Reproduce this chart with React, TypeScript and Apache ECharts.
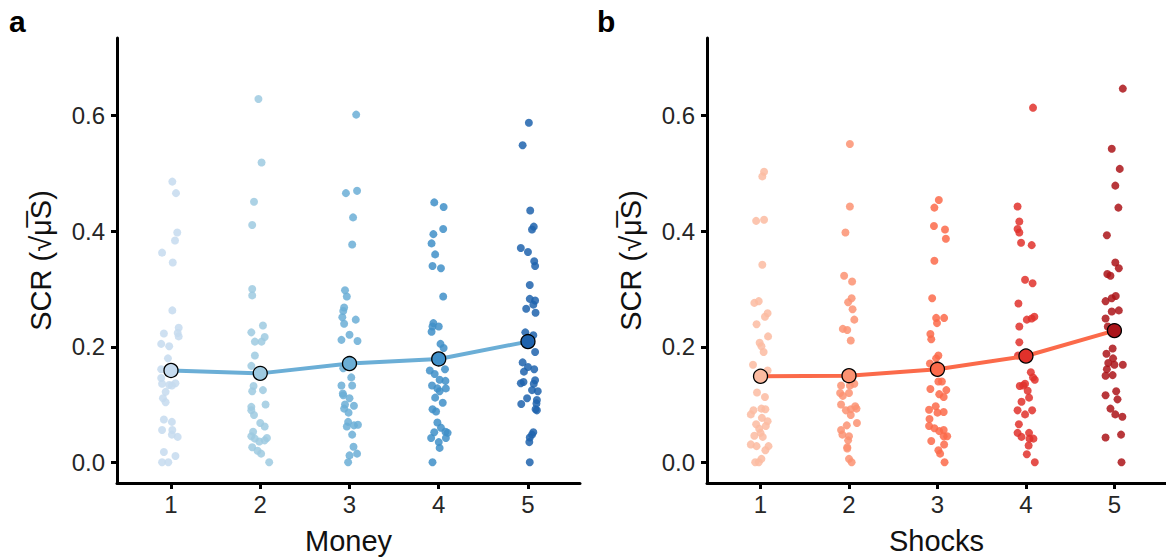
import React, { useEffect, useRef } from "react";
import * as echarts from "echarts";

const xTicks = [1, 2, 3, 4, 5];
const yTicks = [0, 0.2, 0.4, 0.6];

const moneyColors = ["#c6dbef", "#9ecae1", "#6baed6", "#3f8fc8", "#1f63ad"];
const shockColors = ["#fcbba1", "#fc9272", "#fb6a4a", "#e0312b", "#ab1419"];

const moneyMeans = [0.159, 0.154, 0.171, 0.179, 0.209];
const shockMeans = [0.149, 0.15, 0.161, 0.184, 0.228];

const money1 = [[1.015,0.486],[1.056,0.466],[1.07,0.398],[1.045,0.384],[0.9,0.363],[1.02,0.346],[1.015,0.263],[0.92,0.223],[1.086,0.233],[1.075,0.224],[1.086,0.218],[0.89,0.205],[0.98,0.201],[0.966,0.18],[0.89,0.161],[0.89,0.146],[0.9,0.136],[0.98,0.134],[1.05,0.137],[1.01,0.133],[0.94,0.122],[0.91,0.111],[0.94,0.104],[0.92,0.074],[1.01,0.07],[0.9,0.056],[1.015,0.056],[1.01,0.048],[1.075,0.044],[0.92,0.018],[1.05,0.011],[0.9,0.0],[0.97,0.0]];
const money2 = [[1.98,0.629],[2.015,0.519],[1.93,0.451],[1.91,0.411],[1.91,0.3],[1.91,0.289],[2.03,0.237],[1.9,0.225],[2.05,0.217],[1.94,0.209],[2.015,0.209],[1.94,0.185],[1.9,0.167],[1.925,0.132],[1.91,0.123],[2.03,0.125],[1.9,0.096],[2.06,0.1],[1.9,0.09],[1.93,0.082],[2.0,0.068],[2.05,0.062],[1.92,0.053],[1.9,0.045],[1.94,0.041],[1.99,0.036],[2.075,0.042],[2.05,0.038],[1.91,0.026],[1.97,0.02],[2.01,0.015],[2.1,0.0]];
const money3 = [[3.075,0.602],[2.96,0.466],[3.085,0.47],[3.04,0.424],[3.03,0.377],[2.95,0.298],[2.97,0.287],[2.94,0.268],[2.93,0.262],[2.92,0.251],[3.07,0.247],[2.94,0.24],[3.0,0.221],[2.91,0.212],[3.09,0.21],[2.93,0.163],[3.02,0.147],[2.91,0.133],[3.03,0.133],[2.925,0.119],[2.93,0.116],[3.0,0.111],[3.05,0.098],[2.95,0.1],[2.94,0.093],[2.99,0.086],[2.985,0.07],[2.97,0.062],[3.05,0.064],[3.095,0.065],[3.03,0.048],[3.045,0.027],[3.0,0.012],[3.085,0.015],[2.985,0.0]];
const money4 = [[3.95,0.45],[4.055,0.442],[3.94,0.395],[4.05,0.404],[3.92,0.379],[3.96,0.36],[3.93,0.34],[4.025,0.336],[4.05,0.287],[3.94,0.241],[3.93,0.235],[4.0,0.235],[3.92,0.226],[4.02,0.205],[4.055,0.198],[3.9,0.159],[4.07,0.161],[3.955,0.153],[4.01,0.143],[4.075,0.141],[3.925,0.133],[3.985,0.128],[4.08,0.128],[4.01,0.123],[3.96,0.112],[4.045,0.103],[3.93,0.092],[3.97,0.088],[3.985,0.069],[4.025,0.06],[3.95,0.052],[4.075,0.053],[4.1,0.051],[3.915,0.042],[4.08,0.042],[4.0,0.035],[4.01,0.025],[3.93,0.0]];
const money5 = [[5.01,0.588],[4.94,0.549],[5.025,0.436],[5.065,0.408],[5.045,0.403],[4.92,0.371],[5.0,0.364],[5.07,0.348],[5.08,0.34],[5.02,0.307],[5.02,0.283],[5.08,0.28],[5.06,0.273],[4.98,0.266],[5.085,0.259],[4.97,0.225],[5.06,0.22],[5.08,0.191],[4.94,0.173],[5.0,0.165],[5.07,0.161],[4.955,0.157],[4.95,0.139],[4.92,0.137],[5.08,0.142],[5.065,0.136],[5.045,0.125],[5.11,0.123],[4.99,0.111],[5.1,0.108],[4.925,0.101],[5.095,0.102],[5.085,0.092],[5.1,0.09],[5.06,0.052],[5.045,0.048],[5.02,0.043],[5.015,0.035],[5.02,0.0]];

const shock1 = [[1.04,0.503],[1.02,0.495],[0.95,0.418],[1.04,0.42],[1.02,0.342],[0.93,0.276],[0.98,0.279],[1.08,0.258],[1.05,0.252],[0.955,0.239],[1.085,0.218],[0.99,0.207],[1.01,0.201],[1.035,0.191],[0.915,0.169],[1.08,0.159],[0.96,0.121],[1.05,0.113],[0.92,0.09],[0.89,0.083],[1.01,0.093],[1.055,0.092],[1.015,0.077],[1.08,0.071],[0.95,0.066],[1.06,0.063],[0.985,0.058],[1.0,0.051],[0.93,0.046],[1.025,0.044],[0.89,0.031],[0.955,0.028],[1.09,0.028],[1.055,0.021],[1.01,0.006],[0.94,0.0],[0.98,0.0]];
const shock2 = [[2.01,0.551],[2.01,0.443],[1.96,0.398],[1.945,0.323],[2.035,0.313],[2.03,0.284],[1.99,0.277],[2.04,0.265],[2.06,0.247],[1.93,0.231],[1.98,0.229],[2.02,0.211],[2.06,0.136],[1.91,0.133],[2.01,0.133],[1.9,0.12],[2.0,0.12],[1.93,0.115],[1.91,0.1],[2.07,0.097],[2.085,0.093],[1.965,0.09],[2.02,0.092],[2.02,0.082],[2.09,0.068],[1.975,0.064],[1.91,0.056],[1.925,0.048],[2.0,0.045],[1.99,0.038],[1.98,0.026],[1.98,0.024],[2.0,0.006],[2.03,0.0]];
const shock3 = [[3.015,0.454],[2.965,0.441],[2.96,0.409],[3.085,0.403],[3.095,0.387],[2.965,0.349],[2.94,0.284],[2.985,0.25],[3.075,0.25],[2.995,0.241],[2.92,0.222],[2.93,0.213],[3.01,0.185],[2.985,0.18],[2.915,0.171],[3.01,0.14],[3.05,0.14],[2.92,0.127],[3.1,0.125],[3.02,0.118],[3.07,0.113],[2.98,0.097],[2.905,0.091],[3.0,0.086],[3.07,0.087],[2.91,0.075],[2.905,0.063],[2.965,0.059],[3.02,0.054],[3.07,0.056],[3.07,0.045],[3.11,0.045],[2.93,0.037],[3.075,0.031],[3.01,0.021],[3.03,0.015],[3.08,0.0]];
const shock4 = [[4.08,0.614],[3.905,0.443],[3.925,0.417],[3.905,0.404],[3.925,0.398],[3.945,0.38],[4.065,0.376],[3.99,0.316],[4.075,0.31],[3.915,0.275],[4.01,0.247],[4.065,0.249],[4.095,0.252],[3.925,0.235],[3.925,0.208],[3.91,0.185],[4.055,0.156],[4.08,0.147],[4.1,0.143],[3.93,0.132],[3.99,0.136],[3.97,0.133],[4.02,0.124],[4.035,0.112],[3.95,0.105],[3.905,0.09],[3.99,0.083],[4.07,0.09],[3.92,0.066],[3.905,0.051],[3.95,0.044],[4.035,0.051],[4.04,0.041],[4.085,0.041],[4.03,0.029],[4.01,0.014],[4.1,0.0]];
const shock5 = [[5.095,0.647],[4.97,0.543],[5.06,0.508],[5.01,0.479],[5.045,0.441],[4.915,0.393],[5.01,0.346],[5.05,0.336],[4.92,0.326],[4.955,0.323],[5.015,0.288],[4.97,0.284],[4.9,0.279],[5.05,0.263],[4.97,0.261],[4.9,0.249],[4.925,0.235],[4.98,0.197],[4.91,0.188],[4.985,0.18],[4.93,0.172],[5.0,0.169],[5.095,0.169],[4.915,0.161],[4.9,0.15],[4.98,0.151],[4.9,0.116],[5.02,0.123],[5.035,0.109],[4.955,0.093],[5.01,0.083],[5.09,0.079],[5.075,0.048],[4.9,0.043],[5.08,0.0]];

const moneyCols = [money1, money2, money3, money4, money5];
const shockCols = [shock1, shock2, shock3, shock4, shock5];

const FONT = "Liberation Sans, Arial, sans-serif";

function makeAxes(idx: number, name: string) {
  const xAxis = {
    type: "value",
    gridIndex: idx,
    min: 0.395,
    max: 5.583,
    name,
    nameLocation: "middle",
    nameGap: 43,
    nameTextStyle: { fontSize: 29, color: "#111", fontFamily: FONT },
    axisLine: { show: true, onZero: false, lineStyle: { color: "#000", width: 3 } },
    axisTick: { show: true, length: 6, lineStyle: { color: "#000", width: 3 }, customValues: xTicks },
    axisLabel: { fontSize: 24, color: "#262626", margin: 9, fontFamily: FONT, customValues: xTicks },
    splitLine: { show: false },
  };
  const yAxis = {
    type: "value",
    gridIndex: idx,
    min: -0.0358,
    max: 0.7346,
    name: "SCR (√μ̅S)",
    nameLocation: "middle",
    nameGap: 62,
    nameRotate: 90,
    nameTextStyle: { fontSize: 29, color: "#111", fontFamily: FONT },
    axisLine: { show: true, onZero: false, lineStyle: { color: "#000", width: 3 } },
    axisTick: { show: true, length: 6, lineStyle: { color: "#000", width: 3 }, customValues: yTicks },
    axisLabel: {
      fontSize: 24,
      color: "#262626",
      margin: 12,
      fontFamily: FONT,
      customValues: yTicks,
      formatter: (v: number) => v.toFixed(1),
    },
    splitLine: { show: false },
  };
  return { xAxis, yAxis };
}

function makeSeries(idx: number, cols: number[][][], colors: string[], means: number[], lineColor: string) {
  const series: any[] = [];
  cols.forEach((pts, i) => {
    series.push({
      type: "scatter",
      xAxisIndex: idx,
      yAxisIndex: idx,
      data: pts,
      symbolSize: 8,
      itemStyle: { color: colors[i], opacity: 0.85 },
      z: 2,
    });
  });
  series.push({
    type: "line",
    xAxisIndex: idx,
    yAxisIndex: idx,
    data: means.map((m, i) => ({
      value: [xTicks[i], m],
      itemStyle: { color: colors[i], borderColor: "#000", borderWidth: 1.3, opacity: 1 },
    })),
    symbol: "circle",
    symbolSize: 14,
    showSymbol: true,
    lineStyle: { color: lineColor, width: 4 },
    z: 5,
  });
  return series;
}

export default function App() {
  const ref = useRef<HTMLDivElement>(null);
  useEffect(() => {
    document.body.style.margin = "0";
    const chart = echarts.init(ref.current!, undefined, { renderer: "svg" });
    const a = makeAxes(0, "Money");
    const b = makeAxes(1, "Shocks");
    chart.setOption({
      animation: false,
      textStyle: { fontFamily: FONT },
      grid: [
        { left: 117, top: 38, width: 463, height: 452 },
        { left: 707, top: 38, width: 463, height: 452 },
      ],
      xAxis: [a.xAxis, b.xAxis],
      yAxis: [a.yAxis, b.yAxis],
      series: [
        ...makeSeries(0, moneyCols, moneyColors, moneyMeans, "#6baed6"),
        ...makeSeries(1, shockCols, shockColors, shockMeans, "#fb6a4a"),
      ],
      graphic: [
        { type: "text", left: 9, top: 6, style: { text: "a", font: `bold 30px ${FONT}`, fill: "#000" } },
        { type: "text", left: 597, top: 6, style: { text: "b", font: `bold 30px ${FONT}`, fill: "#000" } },
      ],
    });
    return () => chart.dispose();
  }, []);
  return <div ref={ref} style={{ width: 1166, height: 560 }} />;
}
